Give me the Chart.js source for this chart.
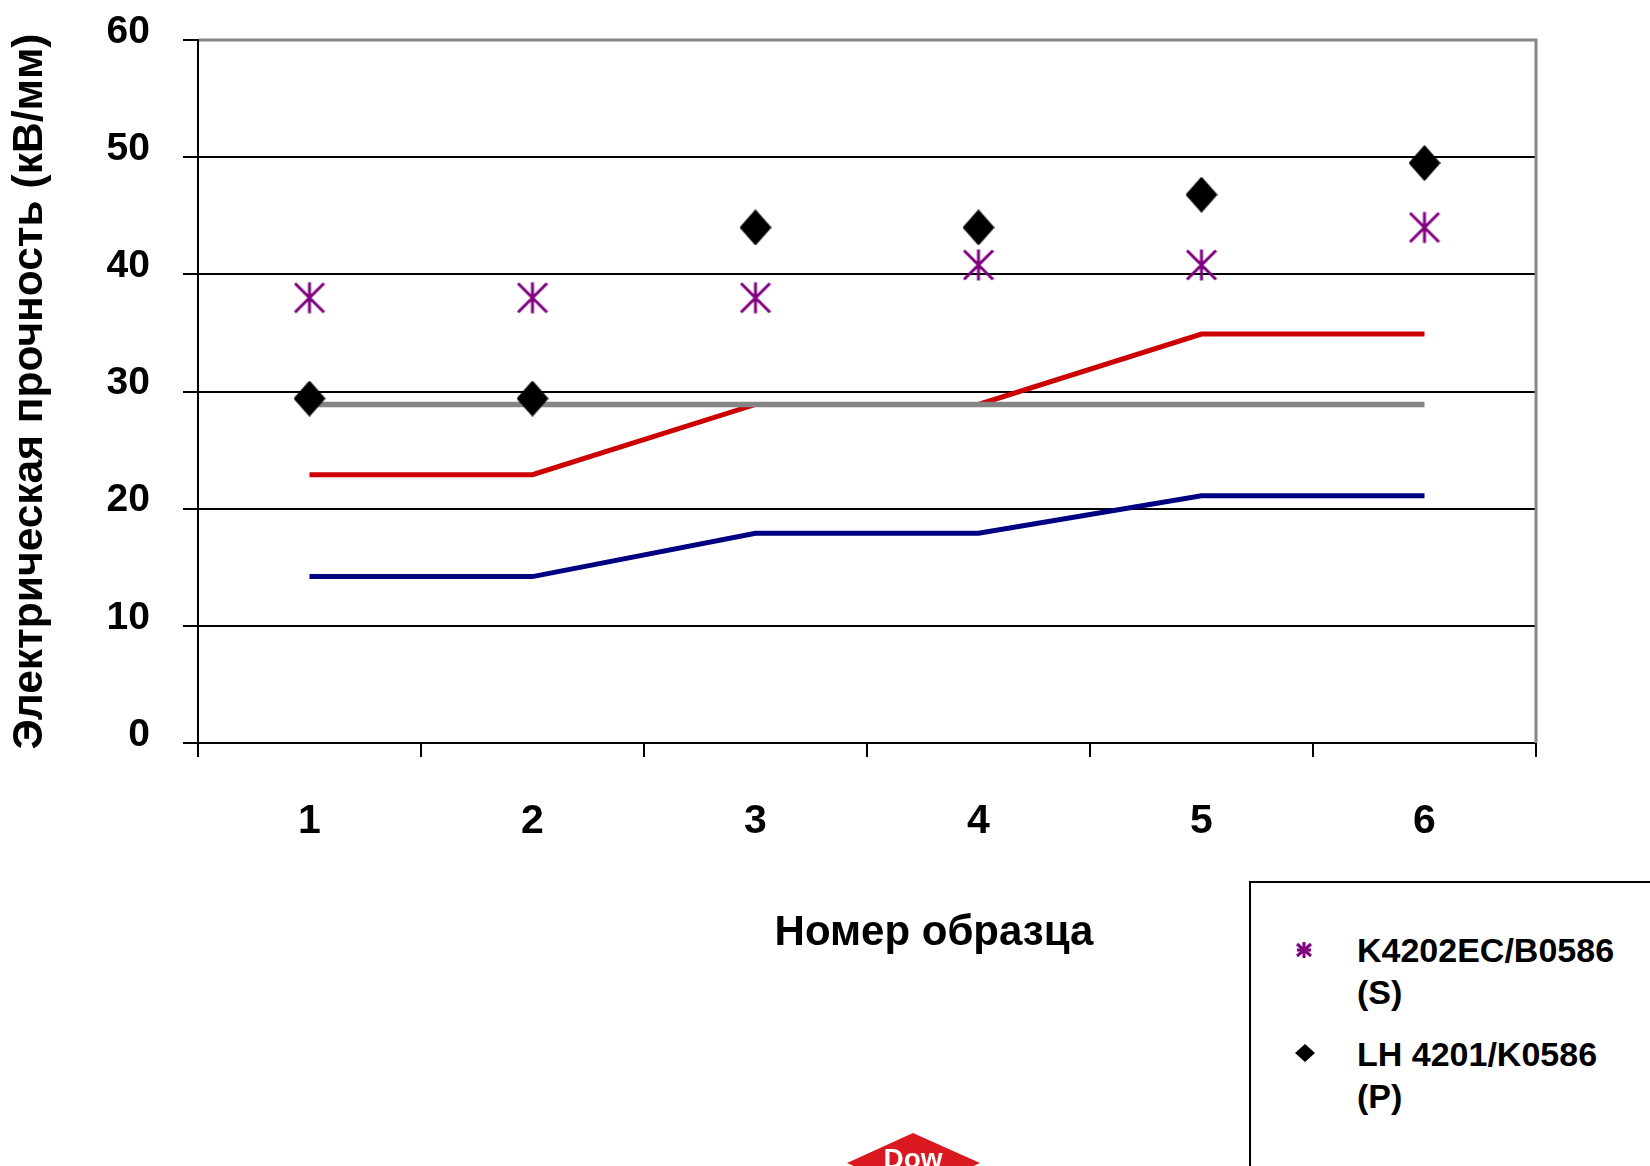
<!DOCTYPE html>
<html lang="ru">
<head>
<meta charset="utf-8">
<title>Электрическая прочность</title>
<script src="https://cdn.jsdelivr.net/npm/chart.js@4/dist/chart.umd.min.js"></script>
<style>
  html, body { margin: 0; padding: 0; background: #fff; overflow: hidden; }
  #wrap { position: relative; width: 1650px; height: 1166px; overflow: hidden; background: #fff; }
  #c { position: absolute; left: 0; top: 0; }
  .legend {
    position: absolute; left: 1249px; top: 881px; width: 480px; height: 400px;
    border: 2px solid #000; box-sizing: border-box; background: #fff;
    font-family: 'Liberation Sans', Arial, Helvetica, sans-serif;
    font-weight: bold; font-size: 34px; line-height: 42px; color: #000;
  }
  .legend .txt { position: absolute; left: 106px; white-space: nowrap; }
  .legend svg { position: absolute; }
  .logo { position: absolute; left: 840px; top: 1128px; filter: blur(0.6px); }
</style>
</head>
<body>
<div id="wrap">
  <canvas id="c" width="1650" height="1166"></canvas>
  <div class="legend" id="legend"></div>
  <svg class="logo" width="150" height="60" viewBox="0 0 150 60">
    <polygon points="7,35 73,5 140,35 73,65" fill="#d9191f"/>
    <text x="73" y="40" text-anchor="middle" fill="#fff"
          font-family="'Liberation Sans', Arial, sans-serif" font-weight="bold" font-size="28">Dow</text>
  </svg>
</div>
<script>
// Sample numbers on the category axis
const categories = ['1', '2', '3', '4', '5', '6'];

// Measured breakdown strength, kV/mm
const seriesNames = ['K4202EC/B0586 (S)', 'LH 4201/K0586 (P)'];
const strengthS = [38, 38, 38, 40.8, 40.8, 44];
const strengthP = [29.4, 29.4, 44, 44, 46.8, 49.5];

// Reference levels
const levelGray = [28.9, 28.9, 28.9, 28.9, 28.9, 28.9];
const levelRed  = [22.9, 22.9, 28.9, 28.9, 34.9, 34.9];
const levelBlue = [14.2, 14.2, 17.9, 17.9, 21.1, 21.1];

const yTitle = 'Электрическая прочность (кВ/мм)';
const xTitle = 'Номер образца';

const FONT = "'Liberation Sans', Arial, Helvetica, sans-serif";
const PURPLE = '#800080';

// Asterisk marker: vertical stroke plus two diagonals
function makeAsterisk(w, h, lw, color) {
  const cv = document.createElement('canvas');
  cv.width = w; cv.height = h;
  const g = cv.getContext('2d');
  g.strokeStyle = color; g.lineWidth = lw; g.lineCap = 'butt';
  const p = lw / 2;
  g.beginPath();
  g.moveTo(w / 2, p); g.lineTo(w / 2, h - p);
  g.moveTo(p, p + 1); g.lineTo(w - p, h - p - 1);
  g.moveTo(w - p, p + 1); g.lineTo(p, h - p - 1);
  g.stroke();
  return cv;
}

// Diamond marker
function makeDiamond(w, h, color) {
  const cv = document.createElement('canvas');
  cv.width = w; cv.height = h;
  const g = cv.getContext('2d');
  g.fillStyle = color; g.strokeStyle = color; g.lineWidth = 1.5; g.lineJoin = 'round';
  g.beginPath();
  g.moveTo(w / 2, 1); g.lineTo(w - 1, h / 2); g.lineTo(w / 2, h - 1); g.lineTo(1, h / 2);
  g.closePath(); g.fill(); g.stroke();
  return cv;
}

const asteriskImg = makeAsterisk(32, 34, 3, PURPLE);
const diamondImg = makeDiamond(32, 36, '#000');

// Gray frame on top/right of the plot and the x-axis caption
const framePlugin = {
  id: 'frame',
  beforeDatasetsDraw(chart) {
    const { ctx, chartArea: a } = chart;
    ctx.save();
    ctx.strokeStyle = '#888888';
    ctx.lineWidth = 3;
    ctx.beginPath();
    ctx.moveTo(a.left + 1, a.top);
    ctx.lineTo(a.right, a.top);
    ctx.lineTo(a.right, a.bottom);
    ctx.stroke();
    ctx.restore();
  },
  afterDraw(chart) {
    const { ctx } = chart;
    ctx.save();
    ctx.fillStyle = '#000';
    ctx.font = 'bold 42px ' + FONT;
    ctx.textAlign = 'center';
    ctx.textBaseline = 'alphabetic';
    ctx.fillText(xTitle, 934, 945);
    ctx.restore();
  }
};

new Chart(document.getElementById('c'), {
  type: 'line',
  data: {
    labels: categories,
    datasets: [
      { label: seriesNames[0], data: strengthS, showLine: false, pointStyle: asteriskImg,
        pointRadius: 16, pointHoverRadius: 16, order: 0 },
      { label: seriesNames[1], data: strengthP, showLine: false, pointStyle: diamondImg,
        pointRadius: 16, pointHoverRadius: 16, order: 1 },
      { label: 'level-gray', data: levelGray, borderColor: '#858585', borderWidth: 5.5,
        pointRadius: 0, order: 2 },
      { label: 'level-red', data: levelRed, borderColor: '#cc0000', borderWidth: 5,
        pointRadius: 0, order: 3 },
      { label: 'level-blue', data: levelBlue, borderColor: '#000080', borderWidth: 5,
        pointRadius: 0, order: 4 }
    ]
  },
  options: {
    responsive: false,
    animation: false,
    devicePixelRatio: 1,
    layout: { padding: { top: 40, right: 114, bottom: 0, left: 0 } },
    elements: { line: { tension: 0, fill: false } },
    plugins: { legend: { display: false }, tooltip: { enabled: false } },
    scales: {
      x: {
        offset: true,
        grid: { offset: true, drawOnChartArea: false, color: '#000', lineWidth: 2, tickLength: 14 },
        border: { color: '#000', width: 2 },
        ticks: { color: '#000', font: { family: FONT, size: 41, weight: 'bold' }, padding: 40 },
        afterFit(s) { s.height = 423; s.paddingLeft = 0; s.paddingRight = 0; }
      },
      y: {
        min: 0, max: 60,
        ticks: { stepSize: 10, color: '#000', font: { family: FONT, size: 39, weight: 'bold' },
                 padding: 33, labelOffset: -8 },
        grid: { color: '#000', lineWidth: 2, tickLength: 15 },
        border: { color: '#000', width: 2 },
        title: { display: true, text: yTitle, color: '#000',
                 font: { family: FONT, size: 42.5, weight: 'bold' }, padding: { top: 5, bottom: 0 } },
        afterFit(s) { s.width = 198; s.paddingTop = 0; s.paddingBottom = 0; }
      }
    }
  },
  plugins: [framePlugin]
});

// Legend with the two measured series
(function buildLegend() {
  const box = document.getElementById('legend');
  const tops = [46, 150];
  const markers = [
    '<svg width="18" height="18" style="left:44px;top:58px" viewBox="0 0 18 18">' +
      '<g stroke="' + PURPLE + '" stroke-width="3">' +
      '<line x1="9" y1="1" x2="9" y2="17"/><line x1="2" y1="3" x2="16" y2="15"/>' +
      '<line x1="16" y1="3" x2="2" y2="15"/><line x1="2" y1="9" x2="16" y2="9"/></g></svg>',
    '<svg width="22" height="20" style="left:43px;top:160px" viewBox="0 0 22 20">' +
      '<polygon points="11,1 21,10 11,19 1,10" fill="#000"/></svg>'
  ];
  seriesNames.forEach((name, i) => {
    const t = document.createElement('div');
    t.className = 'txt';
    t.style.top = tops[i] + 'px';
    const k = name.lastIndexOf(' (');
    t.appendChild(document.createTextNode(name.slice(0, k)));
    t.appendChild(document.createElement('br'));
    t.appendChild(document.createTextNode(name.slice(k + 1)));
    box.appendChild(t);
    box.insertAdjacentHTML('beforeend', markers[i]);
  });
})();
</script>
</body>
</html>
